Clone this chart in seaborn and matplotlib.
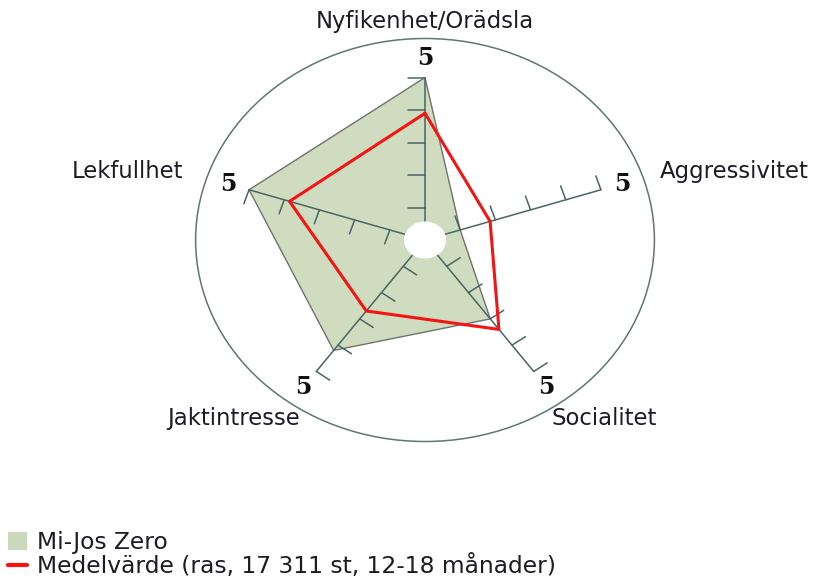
import numpy as np
import pandas as pd
import seaborn as sns
import matplotlib.pyplot as plt
from matplotlib.patches import Circle, Patch
from matplotlib.lines import Line2D

categories = ['Nyfikenhet/Orädsla', 'Aggressivitet', 'Socialitet', 'Jaktintresse', 'Lekfullhet']
dog_values = [5.0, 1.0, 3.0, 4.2, 5.0]
breed_values = [3.9, 1.85, 3.4, 2.7, 3.85]
max_value = 5
tick_values = [1, 2, 3, 4, 5]
dog_label = 'Mi-Jos Zero'
breed_label = 'Medelvärde (ras, 17 311 st, 12-18 månader)'

sns.set_style('white')
plt.rcParams['font.family'] = ['DejaVu Sans']

# angles clockwise from the top
theta = np.deg2rad(np.arange(len(categories)) * 360 / len(categories))

def to_xy(vals):
    vals = np.asarray(vals, dtype=float)
    return vals * np.sin(theta), vals * np.cos(theta)

fig = plt.figure(figsize=(8.15, 5.85), dpi=100)
ax = fig.add_axes([0, 0, 1, 1])
# x and y scales differ a bit, so the chart is stretched sideways like the original
ax.set_xlim(-425 / 37, 390 / 37)
ax.set_ylim(-345 / 32.5, 240 / 32.5)
ax.axis('off')

axis_col = '#4a6565'

# outer ring
ax.add_patch(Circle((0, 0), 6.2, fill=False, ec='#5f7676', lw=1.1, zorder=1))

# filled polygon for the dog
dx, dy = to_xy(dog_values)
ax.fill(np.append(dx, dx[0]), np.append(dy, dy[0]), color='#cfdcbf', ec='#6e736b', lw=1.0, zorder=2)

# axes with ticks on the counterclockwise side
for i, t in enumerate(theta):
    ux, uy = np.sin(t), np.cos(t)
    px, py = -np.cos(t), np.sin(t)
    ax.plot([0, max_value * ux], [0, max_value * uy], color=axis_col, lw=1.1, zorder=3)
    for v in tick_values:
        bx, by = v * ux, v * uy
        ax.plot([bx, bx + 0.45 * px], [by, by + 0.45 * py], color=axis_col, lw=1.1, zorder=3)
    ax.text(5.6 * ux, 5.6 * uy, str(max_value), ha='center', va='center', fontsize=17,
            fontweight='bold', family='DejaVu Serif', color='#111111', zorder=5)

# breed average line
bx, by = to_xy(breed_values)
df = pd.DataFrame({'x': np.append(bx, bx[0]), 'y': np.append(by, by[0])})
sns.lineplot(data=df, x='x', y='y', sort=False, estimator=None, color='#f41414', lw=2.2, ax=ax, zorder=4)

# white hole in the middle
ax.add_patch(Circle((0, 0), 0.55, color='white', zorder=6))

# category labels
label_pos = [(0, 6.72, 'center'), (6.35, 2.1, 'left'), (3.42, -5.5, 'left'),
             (-3.38, -5.5, 'right'), (-6.54, 2.1, 'right')]
for name, (lx, ly, ha) in zip(categories, label_pos):
    ax.text(lx, ly, name, ha=ha, va='center', fontsize=16.4, color='#1e1a26')

handles = [Patch(facecolor='#c9d9b9', edgecolor='none'),
           Line2D([0], [0], color='#f41414', lw=3)]
fig.legend(handles, [dog_label, breed_label], loc='upper left', bbox_to_anchor=(0.01, 0.092),
           frameon=False, fontsize=16.8, handlelength=0.8, handleheight=0.8, handletextpad=0.42,
           labelspacing=0.0, borderpad=0.0, borderaxespad=0.0)
for txt in fig.legends[0].get_texts():
    txt.set_color('#1e1a26')

fig.savefig('out.png', dpi=100)
